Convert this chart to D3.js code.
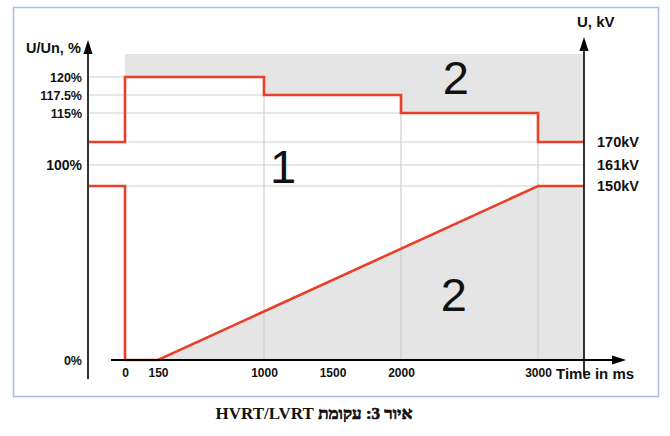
<!DOCTYPE html>
<html lang="he">
<head>
<meta charset="UTF-8">
<title>HVRT/LVRT</title>
<script src="https://d3js.org/d3.v7.min.js"></script>
<style>
  body { margin: 0; background: #fff; }
  svg { font-family: "Liberation Sans", Arial, sans-serif; }
  .lbl { font-weight: bold; fill: #111; }
</style>
</head>
<body>
<div id="chart"></div>
<script>
// time points (ms) and voltage levels (% of Un = 161kV)
const timeTicks = [0, 150, 1000, 1500, 2000, 3000];
const pctTicks = [0, 100, 115, 117.5, 120];
const pctLabels = ["0%", "100%", "115%", "117.5%", "120%"];
const kvTicks = [93.2, 100, 105.6];
const kvLabels = ["150kV", "161kV", "170kV"];
const gridPct = [93.2, 100, 105.6, 115, 117.5, 120];
const gridTime = [1000, 2000, 3000];

// upper envelope (HVRT), time in ms / level in %
const hvrtTime = [-270, 0, 0, 1000, 1000, 2000, 2000, 3000, 3000, 3340];
const hvrtPct  = [105.6, 105.6, 120, 120, 117.5, 117.5, 115, 115, 105.6, 105.6];
// lower envelope (LVRT)
const lvrtTime = [-270, 0, 0, 150, 3000, 3340];
const lvrtPct  = [93.2, 93.2, 0, 0, 93.2, 93.2];

const hvrt = hvrtTime.map((t, i) => ({t: t, v: hvrtPct[i]}));
const lvrt = lvrtTime.map((t, i) => ({t: t, v: lvrtPct[i]}));

const W = 670, H = 436;
const red = "#e8402a", grayFill = "#e5e5e5", grid = "#cfcfcf";

// the drawing is schematic, so both scales are piecewise
const x = d3.scaleLinear()
    .domain([-270, 0, 150, 1000, 3000, 3340])
    .range([88, 125, 158, 264, 538, 584]);
const y = d3.scaleLinear()
    .domain([0, 93.2, 100, 105.6, 115, 120, 123.2])
    .range([360, 186, 165, 142, 113, 77, 54]);
const topPct = 123.2;

const svg = d3.select("#chart").append("svg")
    .attr("width", W).attr("height", H);

// frame
svg.append("rect")
    .attr("x", 13.5).attr("y", 7.5).attr("width", 645).attr("height", 389)
    .attr("fill", "none").attr("stroke", "#a9bfe2").attr("stroke-width", 1.5);

// horizontal grid lines
svg.append("g").selectAll("line").data(gridPct).join("line")
    .attr("x1", x(-270)).attr("x2", x(3340))
    .attr("y1", d => y(d)).attr("y2", d => y(d))
    .attr("stroke", grid).attr("stroke-width", 1.2);

// lower shaded area (below LVRT curve)
svg.append("path")
    .datum(lvrt.filter(d => d.t >= 150))
    .attr("fill", grayFill)
    .attr("d", d3.area().x(d => x(d.t)).y0(y(0)).y1(d => y(d.v)));

// vertical grid lines
svg.append("g").selectAll("line").data(gridTime).join("line")
    .attr("x1", d => x(d)).attr("x2", d => x(d))
    .attr("y1", y(topPct)).attr("y2", y(0))
    .attr("stroke", grid).attr("stroke-width", 1.2);

// upper shaded area (above HVRT curve)
svg.append("path")
    .datum(hvrt.slice(2))
    .attr("fill", grayFill)
    .attr("d", d3.area().x(d => x(d.t)).y0(y(topPct)).y1(d => y(d.v)));

// envelopes
const line = d3.line().x(d => x(d.t)).y(d => y(d.v));
[hvrt, lvrt].forEach(s => {
  svg.append("path").datum(s)
      .attr("fill", "none").attr("stroke", red)
      .attr("stroke-width", 2.6).attr("stroke-linejoin", "miter")
      .attr("d", line);
});

// left axis
svg.append("line").attr("x1", 88).attr("x2", 88).attr("y1", 379).attr("y2", 50)
    .attr("stroke", "#333").attr("stroke-width", 2);
svg.append("path").attr("d", "M88,40 L92.5,54 L83.5,54 Z").attr("fill", "#000");
const gl = svg.append("g").attr("transform", "translate(88,0)")
    .call(d3.axisLeft(y).tickValues(pctTicks).tickSize(0).tickPadding(6)
      .tickFormat((d, i) => pctLabels[i]));
gl.select(".domain").remove();
gl.selectAll("text").attr("class", "lbl")
    .style("font-size", d => d === 100 ? "14px" : "12.5px");
svg.append("text").attr("class", "lbl").attr("x", 26).attr("y", 53)
    .style("font-size", "14.5px").text("U/Un, %");

// bottom axis
svg.append("line").attr("x1", 111).attr("x2", 614).attr("y1", y(0)).attr("y2", y(0))
    .attr("stroke", "#000").attr("stroke-width", 2);
svg.append("path").attr("d", `M626,${y(0)} L612,${y(0) - 4.5} L612,${y(0) + 4.5} Z`)
    .attr("fill", "#000");
const gb = svg.append("g").attr("transform", `translate(0,${y(0)})`)
    .call(d3.axisBottom(x).tickValues(timeTicks).tickSize(0).tickPadding(8)
      .tickFormat(d3.format("d")));
gb.select(".domain").remove();
gb.selectAll("text").attr("class", "lbl").style("font-size", "12px");
svg.append("text").attr("class", "lbl").attr("x", 556).attr("y", 379)
    .style("font-size", "15px").text("Time in ms");

// right axis (kV)
svg.append("line").attr("x1", 584).attr("x2", 584).attr("y1", 374).attr("y2", 47)
    .attr("stroke", "#000").attr("stroke-width", 1.6);
svg.append("path").attr("d", "M584,37 L588.5,51 L579.5,51 Z").attr("fill", "#000");
const gr = svg.append("g").attr("transform", "translate(584,0)")
    .call(d3.axisRight(y).tickValues(kvTicks).tickSize(0).tickPadding(13)
      .tickFormat((d, i) => kvLabels[i]));
gr.select(".domain").remove();
gr.selectAll("text").attr("class", "lbl").style("font-size", "14.5px");
svg.append("text").attr("class", "lbl").attr("x", 577).attr("y", 27)
    .style("font-size", "15px").text("U, kV");

// region numbers
const regions = [
  {t: 2400, v: 117.6, txt: "2"},
  {t: 1139, v: 94.1, txt: "1"},
  {t: 2385, v: 26.4, txt: "2"}
];
svg.append("g").selectAll("text").data(regions).join("text")
    .attr("x", d => x(d.t)).attr("y", d => y(d.v))
    .attr("text-anchor", "middle")
    .style("font-size", "47px").style("fill", "#111")
    .text(d => d.txt);

// caption (Hebrew, right-to-left); the Hebrew glyphs come out thin, so thicken them a bit
const cap = svg.append("text")
    .attr("x", 314).attr("y", 419)
    .attr("text-anchor", "middle").attr("direction", "rtl")
    .style("font-family", "'Liberation Serif', 'DejaVu Serif', serif")
    .style("font-weight", "bold").style("font-size", "17px").style("fill", "#111");
cap.append("tspan").attr("stroke", "#111").attr("stroke-width", 0.7).text("איור 3: עקומת ");
cap.append("tspan").text("HVRT/LVRT");
</script>
</body>
</html>
